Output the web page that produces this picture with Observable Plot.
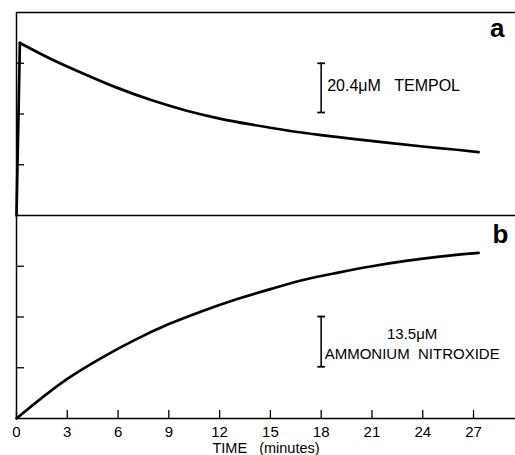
<!DOCTYPE html>
<html>
<head>
<meta charset="utf-8">
<script src="https://cdn.jsdelivr.net/npm/d3@7"></script>
<script src="https://cdn.jsdelivr.net/npm/@observablehq/plot@0.6"></script>
<style>
  html, body { margin: 0; padding: 0; background: #fff; }
  #chart svg { display: block; }
</style>
</head>
<body>
<div id="chart"></div>
<script>
// ---- data ----
const panels = ["a", "b"];

// Panel a: TEMPOL signal (arbitrary units, 1 unit = one y tick)
const tempolTime   = [0, 0.2, 2, 4, 6, 8, 10, 12, 14, 16, 18, 20, 22, 24, 26, 27.3];
const tempolSignal = [0, 3.40, 3.09, 2.79, 2.51, 2.27, 2.07, 1.91, 1.785, 1.675, 1.585, 1.505, 1.43, 1.36, 1.295, 1.25];

// Panel b: ammonium nitroxide signal
const nitroxideTime   = [0, 3, 5, 7, 9, 11, 13, 15, 17, 19, 21, 23, 25, 27.3];
const nitroxideSignal = [0, 0.78, 1.19, 1.55, 1.86, 2.12, 2.35, 2.55, 2.735, 2.875, 3.0, 3.105, 3.19, 3.265];

// axis ticks
const xTicks = [0, 3, 6, 9, 12, 15, 18, 21, 24, 27];
const yTicks = [1, 2, 3];
const xTitle = "TIME\u00a0\u00a0\u00a0(minutes)";

// calibration (scale) bars
const barPanels = ["a", "b"];
const barTime   = [18, 18];
const barLow    = [2.03, 1.02];
const barHigh   = [3.00, 2.01];
const barLabels = ["20.4\u03bcM\u00a0\u00a0\u00a0TEMPOL", "13.5\u03bcM\nAMMONIUM\u00a0\u00a0NITROXIDE"];

// panel frame lines (top of a, a/b divider, bottom of b)
const frameLines = [{panel: "a", v: 4}, {panel: "a", v: 0}, {panel: "b", v: 0}];

// ---- build tables ----
// the TEMPOL trace has a sharp injection rise followed by a smooth decay:
// split at the peak so the corner stays sharp
const peakIndex = tempolSignal.indexOf(d3.max(tempolSignal));
const curves = [
  ...tempolTime.slice(0, peakIndex + 1).map((t, i) => ({panel: "a", seg: "a-rise", t, v: tempolSignal[i]})),
  ...tempolTime.slice(peakIndex).map((t, i) => ({panel: "a", seg: "a-decay", t, v: tempolSignal[peakIndex + i]})),
  ...nitroxideTime.map((t, i) => ({panel: "b", seg: "b", t, v: nitroxideSignal[i]}))
];
const bars = barPanels.map((p, i) => ({panel: p, t: barTime[i], low: barLow[i], high: barHigh[i], label: barLabels[i]}));

const font = "'Liberation Sans', Arial, sans-serif";

const chart = Plot.plot({
  width: 515,
  height: 455,
  marginTop: 12,
  marginBottom: 37,
  marginLeft: 16,
  marginRight: 0,
  style: {fontFamily: font, fontSize: "15px", color: "#000", background: "#fff"},
  x: {domain: [0, 29.48]},
  y: {domain: [0, 4]},
  fy: {domain: panels, axis: null, padding: 0, label: null},
  marks: [
    Plot.ruleX([0], {strokeWidth: 1.5}),
    Plot.ruleY(frameLines, {y: "v", fy: "panel", strokeWidth: 1.5}),
    Plot.axisY(yTicks, {tickSize: -8, tickFormat: () => "", label: null, strokeWidth: 1.3}),
    Plot.axisX(xTicks, {tickSize: -8, tickPadding: 16, label: null, strokeWidth: 1.3, fontSize: 15}),
    Plot.text([{panel: "b", label: xTitle}], {
      fy: "panel", text: "label", frameAnchor: "bottom", dy: 30,
      lineAnchor: "middle", fontSize: 14.5, letterSpacing: "0.6px"
    }),
    Plot.line(curves, {x: "t", y: "v", fy: "panel", z: "seg", curve: "monotone-x", strokeWidth: 2.7, strokeLinejoin: "round", strokeLinecap: "round"}),
    Plot.link(bars, {x1: "t", x2: "t", y1: "low", y2: "high", fy: "panel", strokeWidth: 1.3, markerStart: "tick", markerEnd: "tick"}),
    Plot.link(bars, {x1: "t", x2: "t", y1: "low", y2: "high", fy: "panel", strokeWidth: 0.8, markerStart: "arrow", markerEnd: "arrow"}),
    Plot.text(bars.filter(d => d.panel === "a"), {
      x: "t", y: d => (d.low + d.high) / 2, fy: "panel", text: "label",
      textAnchor: "start", dx: 6, dy: -2, fontSize: 16
    }),
    Plot.text(bars.filter(d => d.panel === "b"), {
      x: "t", y: d => (d.low + d.high) / 2, fy: "panel", text: "label",
      textAnchor: "middle", dx: 91, dy: 1, fontSize: 15, lineHeight: 1.3
    }),
    Plot.text(["a"], {fy: d => d, text: d => d, frameAnchor: "top-right", dx: -11, dy: 6, fontSize: 26, fontWeight: "bold"}),
    Plot.text(["b"], {fy: d => d, text: d => d, frameAnchor: "top-right", dx: -7, dy: 9, fontSize: 26, fontWeight: "bold"})
  ]
});

document.getElementById("chart").appendChild(chart);
</script>
</body>
</html>
